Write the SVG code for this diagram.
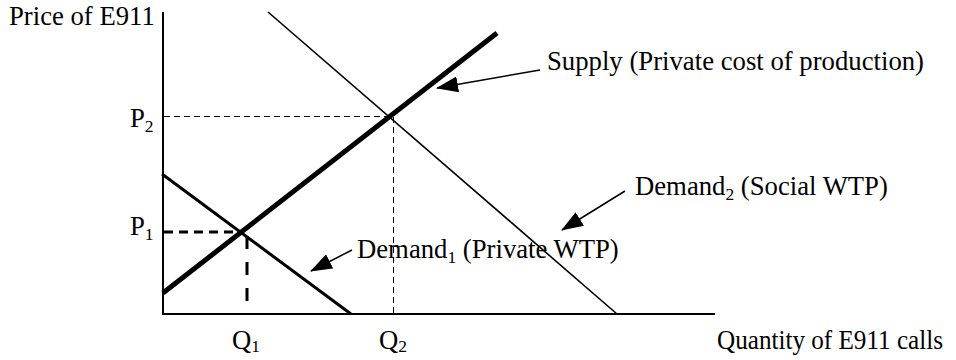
<svg xmlns="http://www.w3.org/2000/svg" width="956" height="360" viewBox="0 0 956 360">
<style>
text{font-family:"Liberation Serif","Times New Roman",serif;font-size:26.7px;fill:#000}
.sub{font-size:17.5px}
.ax{stroke:#000;stroke-width:2;fill:none}
.thin{stroke:#000;stroke-width:1.6;fill:none}
.dash{stroke:#000;stroke-width:1;stroke-dasharray:6 4;fill:none}
.dashb{stroke:#000;stroke-width:3;stroke-dasharray:13 13;fill:none}
.ptr{stroke:#000;stroke-width:1.5;fill:none;marker-end:url(#ah)}
</style>
<defs>
<marker id="ah" viewBox="0 0 22 16" refX="21" refY="8" markerWidth="22" markerHeight="16" markerUnits="userSpaceOnUse" orient="auto">
<path d="M0,0 L22,8 L0,16 z" fill="#000"/>
</marker>
</defs>
<rect width="956" height="360" fill="#fff"/>
<g id="axes">
<line class="ax" x1="163" y1="12" x2="163" y2="314"/>
<line class="ax" x1="162" y1="314" x2="715" y2="314"/>
<text x="9" y="25">Price of E911</text>
<text x="717" y="349" textLength="226" lengthAdjust="spacingAndGlyphs">Quantity of E911 calls</text>
</g>
<g id="guides">
<line class="dash" x1="164" y1="116.5" x2="393" y2="116.5"/>
<line class="dash" x1="393.5" y1="117" x2="393.5" y2="313"/>
<line class="dashb" x1="164" y1="232" x2="244" y2="232" style="stroke-dasharray:9 6"/>
<line class="dashb" x1="247" y1="236" x2="247" y2="302"/>
<text x="130" y="127">P<tspan class="sub" dy="5">2</tspan></text>
<text x="130" y="235">P<tspan class="sub" dy="5">1</tspan></text>
<text x="232" y="349">Q<tspan class="sub" dy="3">1</tspan></text>
<text x="379" y="349">Q<tspan class="sub" dy="3">2</tspan></text>
</g>
<g id="supply">
<line x1="163" y1="293" x2="497" y2="33" stroke="#000" stroke-width="5"/>
<text x="547" y="70" textLength="377" lengthAdjust="spacingAndGlyphs">Supply (Private cost of production)</text>
</g>
<g id="demand2">
<line class="thin" x1="268" y1="12" x2="617" y2="314"/>
<text x="635" y="195">Demand<tspan class="sub" dy="5">2</tspan><tspan dy="-5"> (Social WTP)</tspan></text>
</g>
<g id="demand1">
<line x1="162" y1="174" x2="351" y2="314" stroke="#000" stroke-width="3"/>
<text x="357" y="258">Demand<tspan class="sub" dy="5">1</tspan><tspan dy="-5"> (Private WTP)</tspan></text>
</g>
<g id="connectors">
<line class="ptr" x1="540" y1="70" x2="437" y2="88"/>
<line class="ptr" x1="625" y1="191" x2="562" y2="230"/>
<line class="ptr" x1="352" y1="250" x2="311" y2="271"/>
</g>
</svg>
